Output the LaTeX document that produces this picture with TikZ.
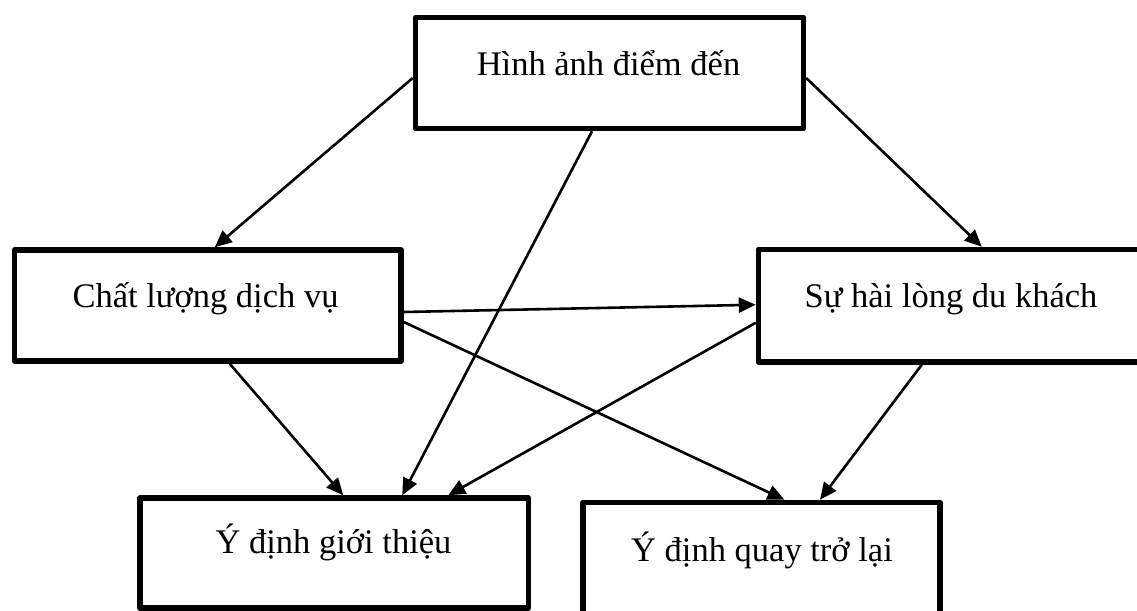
\documentclass[tikz,border=0pt]{standalone}
\usepackage{fontspec}
\setmainfont{Liberation Serif}
\usetikzlibrary{arrows.meta,calc}
\begin{document}
\begin{tikzpicture}[x=1pt,y=-1pt,
  box/.style={draw=black,line width=5.5pt,line join=round,rectangle,inner sep=0pt},
  lbl/.style={font=\fontsize{34.5}{38}\selectfont,anchor=base,inner sep=0pt},
  arr/.style={line width=2.6pt,-{Triangle[length=17pt,width=15pt]}}]
  \fill[white] (0,0) rectangle (1137,610);
  \useasboundingbox (0,0) rectangle (1137,610);
  \clip (0,0) rectangle (1137,610);

  % boxes
  \node[box,minimum width=388pt,minimum height=111pt]   (T) at (609.5,73) {};
  \node[box,minimum width=386.5pt,minimum height=111pt] (C) at (207.75,305.5) {};
  \node[box,minimum width=386.5pt,minimum height=112.5pt] (S) at (951.75,305.75) {};
  \node[box,minimum width=388.5pt,minimum height=110pt] (G) at (334.25,553) {};
  \node[box,minimum width=357pt,minimum height=117pt]   (Q) at (761.5,561) {};

  % labels
  \node[lbl] (Tt) at (608.5,75)  {Hình ảnh điểm đến};
  \node[lbl] (Ct) at (205.5,307) {Chất lượng dịch vụ};
  \node[lbl] (St) at (951,307)   {Sự hài lòng du khách};
  \node[lbl] (Gt) at (333.5,553) {Ý định giới thiệu};
  \node[lbl] (Qt) at (762,561)   {Ý định quay trở lại};

  % relations
  \draw[arr] ($(T.west)+(0,5)$)     -- ($(C.north)+(7,0)$);
  \draw[arr] ($(T.east)+(0,5)$)     -- ($(S.north)+(30,0)$);
  \draw[arr] ($(T.south)+(-17.5,0)$) -- ($(G.north)+(68,0)$);
  \draw[arr] ($(C.east)+(0,6.5)$)   -- ($(S.west)+(0,-1)$);
  \draw[arr] ($(C.east)+(0,16.5)$)  -- ($(Q.north)+(23,0)$);
  \draw[arr] ($(S.west)+(0,17)$)    -- ($(G.north)+(114,0)$);
  \draw[arr] ($(C.south)+(22,0)$)   -- ($(G.north)+(9,0)$);
  \draw[arr] ($(S.south)+(-30,0)$)  -- ($(Q.north)+(58.5,0)$);
\end{tikzpicture}
\end{document}
